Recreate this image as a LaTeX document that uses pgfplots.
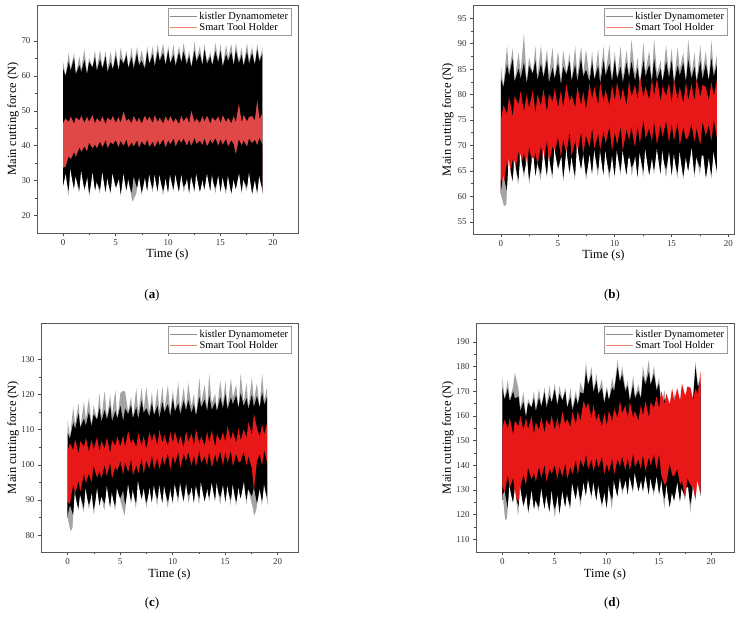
\documentclass[border=0pt]{standalone}
\usepackage{fontspec}
\setmainfont{Liberation Serif}
\usepackage{pgfplots}
\pgfplotsset{compat=1.18}
\usepackage{pgfplotstable}
\definecolor{redA}{HTML}{E04848}
\definecolor{redB}{HTML}{E81818}
\definecolor{fringe}{HTML}{A4A4A4}
\definecolor{legred}{HTML}{F08272}
\definecolor{leggray}{HTML}{8C8C8C}

% columns: t, grey fringe top, black top, red top, red bottom, black bottom, grey fringe bottom
\pgfplotstableread{
t gu ku su sl kl gl
0 63.8 62.0 46.5 33.7 28.6 27.1
0.22 60.2 59.9 47.8 33.9 31.0 30.4
0.53 66.7 64.0 46.8 36.9 26.9 22.5
0.71 62.0 61.4 48.4 36.0 31.3 31.3
1.04 66.6 65.1 46.3 38.1 27.4 25.6
1.20 60.5 60.5 48.1 36.7 30.6 29.7
1.55 65.5 63.1 47.3 39.4 27.0 24.6
1.73 62.0 61.1 48.6 38.2 31.2 30.9
2.02 67.6 64.6 46.6 39.7 27.5 25.4
2.27 60.7 60.4 48.3 38.3 29.9 29.3
2.47 65.2 64.0 46.9 40.8 26.1 23.1
2.80 62.4 62.4 48.7 39.2 30.5 30.5
3.03 67.5 65.4 46.4 40.3 26.7 25.2
3.21 62.0 61.4 47.9 39.2 29.3 28.4
3.52 67.5 64.8 46.8 41.1 27.3 24.6
3.74 62.3 62.0 48.4 39.5 30.9 30.6
4.05 67.1 65.6 46.2 41.5 26.3 24.5
4.22 61.9 61.0 48.0 39.2 29.7 29.1
4.54 67.0 64.0 47.2 41.0 26.5 24.1
4.73 61.8 61.8 48.5 40.3 30.5 30.5
5.02 67.6 65.8 46.6 41.5 27.9 26.7
5.28 62.0 61.4 48.2 39.5 30.1 29.2
5.47 68.0 65.0 46.5 41.3 25.9 22.9
5.76 63.7 63.4 49.8 39.9 30.5 30.2
6.04 67.2 66.0 47.0 41.7 27.1 25.0
6.21 62.2 62.2 47.7 39.4 29.5 28.9
6.53 68.1 65.4 46.5 40.9 26.3 23.6
6.72 62.9 62.0 48.5 39.7 31.1 24.0
7.05 68.4 66.6 46.7 41.5 27.7 26.2
7.23 63.3 63.0 48.1 39.3 30.3 29.4
7.48 67.4 64.4 46.3 41.2 26.5 24.1
7.79 62.6 62.0 48.6 40.0 29.7 29.4
8.02 68.5 67.0 47.1 41.6 26.7 24.9
8.22 63.4 63.4 48.3 39.6 30.7 30.1
8.55 68.6 66.2 46.5 41.1 27.5 24.5
8.73 63.5 62.6 48.7 39.5 29.9 29.9
9.03 69.3 67.2 46.8 41.4 26.1 24.9
9.20 64.5 64.2 48.0 40.1 30.5 29.9
9.54 69.3 66.6 46.4 41.8 26.9 24.2
9.77 63.6 63.0 48.4 39.4 29.3 29.0
10.02 68.6 67.4 46.9 41.5 26.3 24.2
10.21 63.6 63.6 48.5 40.3 30.9 30.0
10.53 69.0 66.0 46.6 42.0 27.3 24.9
10.72 63.4 62.8 47.9 39.7 30.1 30.1
11.05 68.6 66.8 46.2 41.8 26.5 25.0
11.27 64.1 63.8 48.6 40.7 30.5 29.9
11.48 69.4 67.0 47.0 42.0 28.1 25.1
11.79 64.1 63.2 48.2 40.0 29.5 29.2
12.02 67.3 65.8 46.5 41.6 25.9 24.1
12.22 62.4 62.4 50.0 39.9 30.5 29.6
12.54 69.9 67.2 46.7 42.2 27.1 24.4
12.71 64.6 64.0 47.8 40.4 30.3 30.3
13.04 68.5 66.4 46.5 41.4 26.5 25.3
13.28 63.3 63.0 48.5 40.1 29.1 28.8
13.47 69.0 67.6 46.9 42.0 27.5 25.1
13.72 64.3 63.4 48.6 39.8 31.1 30.5
14.05 66.8 65.6 46.3 41.7 26.7 24.9
14.21 63.0 63.0 48.1 40.5 29.9 29.9
14.53 69.4 67.0 47.1 42.1 27.7 24.7
14.78 64.4 63.8 48.4 40.0 30.7 29.8
15.02 69.0 67.2 46.5 41.8 26.1 24.6
15.22 62.9 62.6 48.7 40.2 29.7 29.4
15.54 68.9 66.2 46.8 41.9 26.9 24.2
15.73 65.1 64.2 48.0 39.7 30.3 29.7
16.04 69.2 66.8 46.4 41.5 26.3 24.2
16.27 63.0 63.0 48.5 40.3 28.9 28.9
16.47 69.5 67.4 46.7 37.5 27.3 26.1
16.76 64.2 63.6 52.0 41.8 30.9 30.6
17.03 68.1 66.0 46.6 40.0 26.7 23.7
17.21 63.1 62.8 48.8 41.4 29.9 29.0
17.54 69.4 67.0 47.0 39.7 27.9 25.5
17.73 64.3 63.4 48.2 42.0 30.5 30.5
18.02 68.4 66.6 48.5 40.7 25.9 24.4
18.28 63.2 63.2 47.2 41.7 29.3 28.7
18.51 69.3 67.6 53.0 40.1 26.5 23.8
18.72 64.6 64.0 47.6 42.2 30.1 29.8
19 67.9 66.4 49.3 40.4 27.5 25.7
}\tA

\pgfplotstableread{
t gu ku su sl kl gl
0 85.4 83.0 75.0 63.4 61.1 59.6
0.22 81.8 81.4 77.9 61.8 64.0 57.8
0.53 89.6 86.0 76.2 66.8 60.9 58.2
0.71 84.5 83.7 79.6 63.9 65.8 65.8
1.04 89.1 87.1 75.6 67.2 62.9 61.1
1.20 82.5 82.5 79.7 64.1 66.6 65.7
1.55 88.3 85.1 78.1 68.7 63.0 60.6
1.73 84.3 83.1 80.7 65.7 67.2 66.9
2.02 92.0 86.3 76.7 68.4 64.5 62.4
2.27 82.5 82.1 80.1 65.2 66.9 66.3
2.47 87.3 85.7 77.3 69.6 63.1 60.1
2.80 84.1 84.1 80.9 66.0 67.5 67.5
3.03 89.5 86.7 76.3 68.6 63.7 62.2
3.21 83.5 82.7 80.0 66.0 66.3 65.4
3.52 89.7 86.1 77.8 69.8 64.3 61.6
3.74 83.7 83.3 81.0 66.6 67.9 67.6
4.05 88.9 86.9 76.6 70.8 63.8 62.0
4.22 83.5 82.3 80.2 66.2 67.2 66.6
4.54 89.3 85.3 78.6 69.8 64.0 61.6
4.73 83.1 83.1 81.2 68.4 68.0 68.0
5.02 88.7 86.3 77.4 71.5 65.4 64.2
5.28 82.7 81.9 80.9 67.5 67.6 66.7
5.47 88.7 85.5 77.5 71.1 63.4 60.4
5.76 84.3 83.9 82.1 68.3 68.0 67.7
6.04 88.1 86.5 78.5 72.4 64.6 62.5
6.21 82.7 82.7 79.9 67.8 67.0 66.4
6.53 89.5 85.9 77.5 70.8 63.8 61.1
6.72 83.7 82.5 81.5 68.4 68.6 68.6
7.05 89.5 87.1 77.9 72.5 65.2 63.7
7.23 83.9 83.5 80.7 68.1 67.8 66.9
7.48 88.9 84.9 77.1 71.9 64.0 61.6
7.79 83.3 82.5 82.2 69.5 67.2 66.9
8.02 88.5 86.5 79.2 73.2 64.2 62.4
8.22 82.9 82.9 81.6 69.2 68.2 67.6
8.55 88.9 85.7 78.0 72.2 65.0 62.0
8.73 83.3 82.1 82.4 69.0 67.4 67.4
9.03 89.5 86.7 78.6 72.8 63.6 62.4
9.20 84.1 83.7 81.0 70.2 68.0 67.4
9.54 89.7 86.1 77.8 73.6 64.4 61.7
9.77 83.3 82.5 81.8 68.8 66.8 66.5
10.02 88.5 86.9 78.8 72.5 63.8 61.7
10.21 83.1 83.1 82.5 70.1 68.4 67.5
10.53 89.5 85.5 78.7 73.5 64.8 62.4
10.72 83.1 82.3 81.3 68.9 67.6 67.6
11.05 88.7 86.3 77.9 73.1 64.0 62.5
11.27 83.7 83.3 82.7 70.9 68.0 67.4
11.48 90.8 86.5 79.5 73.5 65.6 62.6
11.79 83.9 82.7 81.9 69.5 67.0 66.7
12.02 87.3 85.3 79.0 73.7 63.4 61.6
12.22 81.9 81.9 83.6 70.3 68.0 67.1
12.54 90.3 86.7 79.4 74.9 64.6 61.9
12.71 84.3 83.5 81.6 71.3 67.8 67.8
13.04 88.7 85.9 79.0 73.3 64.0 62.8
13.28 82.9 82.5 83.0 70.7 66.6 66.3
13.47 91.1 87.1 79.8 74.5 65.0 62.6
13.72 84.1 82.9 83.2 70.1 68.6 68.0
14.05 86.7 85.1 78.6 73.9 64.2 62.4
14.21 82.5 82.5 81.7 71.5 67.4 67.4
14.53 89.7 86.5 79.7 74.7 65.2 62.2
14.78 84.1 83.3 82.3 70.5 68.2 67.3
15.02 89.1 86.7 78.5 74.1 63.6 62.1
15.22 82.5 82.1 82.9 70.9 67.2 66.9
15.54 89.3 85.7 79.1 74.3 64.4 61.7
15.73 84.9 83.7 81.5 69.9 67.8 67.2
16.04 88.3 86.3 78.3 73.5 63.8 61.7
16.27 82.5 82.5 82.5 71.1 66.4 66.4
16.47 90.9 86.9 78.9 71.5 64.8 63.6
16.76 83.9 83.1 82.1 74.1 68.4 68.1
17.03 88.3 85.5 78.7 70.5 64.2 61.2
17.21 82.7 82.3 83.1 73.3 67.4 66.5
17.54 89.7 86.5 79.5 69.9 65.4 63.0
17.73 84.1 82.9 81.9 74.5 68.0 68.0
18.02 88.5 86.1 81.5 71.9 63.4 61.9
18.28 82.7 82.7 78.9 73.9 66.8 66.2
18.51 90.7 87.1 82.5 70.7 64.0 61.3
18.72 84.3 83.5 79.7 74.9 67.6 67.3
19 87.9 85.9 83.1 71.3 65.0 63.2
}\tB

\pgfplotstableread{
t gu ku su sl kl gl
0 112.6 109.0 104.0 89.4 85.6 83.6
0.22 108.0 107.4 106.1 88.8 88.5 80.5
0.53 116.4 112.0 104.1 94.3 85.4 81.8
0.71 111.4 110.2 107.3 91.7 90.3 90.3
1.04 117.6 114.6 103.1 95.2 87.4 85.0
1.20 110.5 110.5 106.7 92.1 91.1 89.9
1.55 117.9 113.1 105.1 97.2 87.5 84.3
1.73 112.9 111.1 107.7 94.7 91.7 91.3
2.02 119.0 115.0 103.7 97.4 88.5 85.7
2.27 111.4 110.8 107.1 94.7 90.9 90.1
2.47 116.8 114.4 104.3 99.6 87.1 83.1
2.80 112.8 112.8 107.9 96.2 91.5 91.5
3.03 120.4 116.2 103.8 98.1 88.2 86.2
3.21 113.4 112.2 106.8 96.0 90.8 89.6
3.52 121.0 115.6 104.6 99.8 88.8 85.2
3.74 113.4 112.8 107.8 96.6 92.4 92.0
4.05 119.9 116.9 103.4 100.5 87.8 85.4
4.22 114.1 112.3 107.0 95.9 91.2 90.4
4.54 121.3 115.3 105.4 99.5 88.0 84.8
4.73 113.1 113.1 108.0 98.1 92.0 92.0
5.02 120.4 116.8 105.2 101.0 90.4 88.8
5.28 121.0 112.4 108.4 97.0 92.6 86.0
5.47 120.8 116.0 105.0 100.6 88.4 84.4
5.76 115.0 114.4 109.6 97.8 93.0 92.6
6.04 119.4 117.0 106.0 101.4 89.6 86.8
6.21 113.2 113.2 107.4 96.8 92.0 91.2
6.53 121.8 116.4 105.0 99.8 88.8 85.2
6.72 114.8 113.0 109.0 97.4 93.6 93.6
7.05 121.9 118.3 105.4 101.7 90.2 88.2
7.23 115.3 114.7 108.2 97.3 92.8 91.6
7.48 122.1 116.1 104.6 101.1 89.0 85.8
7.79 114.9 113.7 109.2 98.7 92.2 91.8
8.02 120.7 117.7 106.7 102.7 89.2 86.8
8.22 114.1 114.1 109.1 98.7 93.2 92.4
8.55 121.7 116.9 105.5 101.7 90.0 86.0
8.73 115.1 113.3 109.9 98.5 92.4 92.4
9.03 122.1 117.9 106.1 102.3 88.6 87.0
9.20 115.5 114.9 108.5 99.7 93.0 92.2
9.54 122.7 117.3 105.3 103.1 89.4 85.8
9.77 114.9 113.7 109.3 98.3 91.8 91.4
10.02 121.3 118.9 106.3 102.5 89.3 86.5
10.21 115.1 115.1 109.5 100.1 93.9 92.7
10.53 123.5 117.5 105.7 103.5 90.3 87.1
10.72 115.5 114.3 108.3 98.9 93.1 93.1
11.05 121.9 118.3 104.9 103.1 89.5 87.5
11.27 115.9 115.3 109.7 100.9 93.5 92.7
11.48 123.3 118.5 106.5 103.5 91.1 87.1
11.79 116.5 114.7 108.9 99.5 92.5 92.1
12.02 120.3 117.3 105.5 102.7 88.9 86.5
12.22 113.9 113.9 110.1 99.3 93.5 92.3
12.54 124.8 119.4 105.9 103.9 90.1 86.5
12.71 117.4 116.2 108.1 100.3 93.3 93.3
13.04 122.8 118.6 105.5 102.3 89.5 87.9
13.28 115.8 115.2 109.5 99.7 92.1 91.7
13.47 125.8 119.8 106.3 103.5 90.5 87.3
13.72 117.4 115.6 109.7 99.1 94.1 93.3
14.05 120.2 117.8 105.1 102.9 89.7 87.3
14.21 115.2 115.2 108.7 100.5 92.9 92.9
14.53 124.0 119.2 106.7 103.7 90.7 86.7
14.78 117.2 116.0 109.3 99.5 93.7 92.5
15.02 123.8 120.2 106.5 103.6 89.1 87.1
15.22 116.2 115.6 110.9 100.4 92.7 92.3
15.54 124.6 119.2 107.1 103.8 89.9 86.3
15.73 119.0 117.2 109.5 99.4 93.3 92.5
16.04 122.8 119.8 106.3 103.0 89.3 86.5
16.27 116.0 116.0 110.5 100.6 91.9 91.9
16.47 126.0 120.4 106.9 101.0 90.3 88.7
16.76 117.8 116.6 110.1 103.6 93.9 93.5
17.03 123.2 119.0 107.7 99.5 89.7 85.7
17.21 116.4 115.8 112.1 102.3 92.9 91.7
17.54 124.8 120.0 108.5 98.9 90.9 87.7
17.73 118.2 116.4 114.5 92.5 93.5 84.5
18.02 123.2 119.6 110.5 100.9 88.9 86.9
18.28 116.2 116.2 107.9 102.9 92.3 91.5
18.51 126.0 120.6 111.5 99.7 89.5 85.9
18.72 118.2 117.0 108.7 103.9 93.1 92.7
19 122.4 119.4 112.1 100.3 90.5 88.1
}\tC

\pgfplotstableread{
t gu ku su sl kl gl
0 176.0 171.5 155.0 131.6 127.9 125.9
0.22 167.0 166.6 158.4 128.7 129.5 116.5
0.53 174.6 171.0 154.9 135.7 122.1 118.5
0.71 166.6 165.8 159.2 130.6 129.2 129.2
1.04 171.9 169.9 152.4 134.8 124.6 122.2
1.20 177.5 167.0 158.0 127.9 128.9 127.7
1.55 171.1 167.9 155.9 125.0 123.0 115.5
1.73 163.1 161.9 160.1 130.8 128.8 128.4
2.02 169.7 165.7 154.3 136.1 123.5 120.7
2.27 159.8 159.4 159.2 131.8 126.9 126.1
2.47 166.9 165.3 154.7 138.9 120.9 116.9
2.80 163.4 163.4 159.8 134.0 127.2 127.2
3.03 170.1 167.3 152.7 136.9 121.3 119.3
3.21 162.6 161.8 157.4 133.2 125.4 124.2
3.52 171.0 167.4 154.4 139.2 122.7 119.1
3.74 164.1 163.7 159.5 134.7 128.4 128.0
4.05 171.6 169.6 153.1 140.0 121.7 119.3
4.22 164.4 163.2 158.5 133.1 126.3 125.5
4.54 172.2 168.2 156.1 138.5 121.0 117.8
4.73 165.4 165.4 160.0 136.4 126.5 126.5
5.02 173.1 170.7 154.3 140.0 122.1 115.5
5.28 164.9 164.1 159.3 134.0 125.9 124.7
5.47 172.2 169.0 154.5 139.4 120.1 116.1
5.76 166.5 166.1 161.7 135.2 127.5 127.1
6.04 171.6 170.0 156.5 140.6 122.9 120.1
6.21 163.3 163.3 158.8 134.2 127.0 126.2
6.53 171.2 167.6 155.5 139.2 122.7 119.1
6.72 163.2 162.0 161.8 136.1 130.4 130.4
7.05 170.3 167.9 156.6 142.0 125.8 123.8
7.23 164.9 164.5 162.0 135.9 130.5 129.3
7.48 173.6 169.6 157.9 142.1 125.5 120.0
7.79 169.8 169.0 166.1 139.0 131.0 130.6
8.02 182.0 178.0 162.8 144.3 127.3 124.9
8.22 172.6 172.6 165.4 138.1 132.8 132.0
8.55 180.0 176.8 159.0 142.3 127.5 123.5
8.73 170.6 169.4 164.6 137.2 130.6 130.6
9.03 177.1 174.3 157.9 142.7 124.4 122.8
9.20 169.2 168.8 161.0 138.6 130.2 129.4
9.54 175.0 171.4 155.7 143.4 124.1 120.5
9.77 165.8 165.0 161.2 135.9 127.0 126.6
10.02 172.2 170.6 156.2 140.5 121.7 118.9
10.21 166.4 166.4 162.2 137.1 129.8 128.6
10.53 175.5 171.5 157.8 142.5 125.7 118.0
10.72 171.0 170.2 163.0 135.9 131.2 131.2
11.05 182.8 179.7 159.1 142.4 127.0 125.0
11.27 174.1 173.7 166.1 139.3 133.2 132.4
11.48 180.2 177.0 161.0 143.5 129.9 125.9
11.79 171.0 169.8 164.3 137.8 132.3 131.9
12.02 174.2 172.2 159.0 142.8 127.1 124.7
12.22 166.1 166.1 165.7 137.7 134.2 133.0
12.54 176.4 172.8 159.1 144.6 129.4 125.8
12.71 167.8 167.0 162.1 139.2 134.5 134.5
13.04 172.9 170.1 158.0 142.2 129.0 127.4
13.28 167.4 167.0 164.5 138.3 132.4 132.0
13.47 180.4 176.4 160.2 144.0 129.5 126.3
13.72 173.8 172.6 165.8 137.4 134.4 133.6
14.05 183.0 177.9 159.4 143.1 127.3 124.9
14.21 172.5 172.5 165.6 139.5 132.3 132.3
14.53 180.2 177.0 163.3 144.3 129.3 125.3
14.78 171.0 170.2 167.9 138.0 134.1 132.9
15.02 175.7 173.3 163.0 144.4 127.4 125.4
15.22 164.3 163.9 170.1 136.1 131.6 131.2
15.54 170.4 166.8 164.9 132.0 126.1 118.0
15.73 162.5 161.3 169.0 133.1 129.9 129.1
16.04 164.7 162.7 164.7 140.5 122.7 119.9
16.27 158.0 158.0 171.2 135.9 127.1 127.1
16.47 169.6 165.6 166.1 135.5 125.2 123.6
16.76 160.7 159.9 171.2 138.4 131.1 130.7
17.03 166.3 163.5 166.3 132.0 125.3 121.3
17.21 159.6 159.2 173.1 133.7 130.1 128.9
17.54 169.2 166.0 168.0 126.1 127.1 123.9
17.73 162.3 161.1 171.9 134.5 131.0 131.0
18.02 168.8 166.4 171.5 132.1 124.1 116.0
18.28 167.3 167.3 166.6 130.6 129.7 128.9
18.51 182.0 179.9 171.0 114.5 126.0 122.4
18.72 172.8 172.0 168.8 130.6 131.9 131.5
19 175.1 173.1 178.0 128.2 128.5 126.1
}\tD

\pgfplotsset{
  legend image code/.code={\draw[#1] (0bp,0bp) -- (27bp,0bp);},
}
\pgfplotsset{
  panel/.style={
    scale only axis,
    axis on top,
    tick align=outside,
    xtick pos=left, ytick pos=left,
    minor x tick num=1, minor y tick num=1,
    major tick length=3bp, minor tick length=1.8bp,
    axis line style={black!65, line width=0.6pt},
    tick style={black!70, line width=0.5pt},
    /pgf/number format/assume math mode=true,
    tick label style={font=\fontsize{9}{10}\selectfont, text=black!80},
    xtick={0,5,10,15,20},
    xlabel={Time (s)}, ylabel={Main cutting force (N)},
    label style={font=\fontsize{12.5}{13}\selectfont},
    xlabel style={at={(axis description cs:0.5,0)}, anchor=center, yshift=-22bp},
    legend style={at={(0.975,0.985)}, anchor=north east, draw=black!40,
      font=\fontsize{10.5}{11}\selectfont, inner sep=1.2pt, row sep=-1.5pt,
      fill=white},
    legend cell align=left,
    legend entries={kistler Dynamometer, Smart Tool Holder},
  },
}

% layered fills from each edge down to the bottom of the axis
\newcommand{\bands}[2]{%
  \addlegendimage{draw=leggray, line width=0.8pt}
  \addlegendimage{draw=legred, line width=0.8pt}
  \addplot[fill=fringe, draw=none, forget plot] table[x=t, y=gu] {#1} \closedcycle;
  \addplot[fill=black, draw=none, forget plot] table[x=t, y=ku] {#1} \closedcycle;
  \addplot[fill=#2, draw=none, forget plot] table[x=t, y=su] {#1} \closedcycle;
  \addplot[fill=black, draw=none, forget plot] table[x=t, y=sl] {#1} \closedcycle;
  \addplot[fill=fringe, draw=none, forget plot] table[x=t, y=kl] {#1} \closedcycle;
  \addplot[fill=white, draw=white, line width=1.6pt, forget plot] table[x=t, y=gl] {#1} \closedcycle;
}

\begin{document}
\begin{tikzpicture}
\useasboundingbox (0,0) rectangle (741bp,-627bp);

\begin{axis}[panel, at={(37bp,-233bp)}, anchor=south west,
  width=261bp, height=228bp,
  xmin=-2.5, xmax=22.4, ymin=15, ymax=80.3,
  ytick={20,30,40,50,60,70},
  ylabel style={at={(axis description cs:-0.092,0.5)}, anchor=center}]
\bands{\tA}{redA}
\end{axis}

\begin{axis}[panel, at={(473bp,-234bp)}, anchor=south west,
  width=261bp, height=229bp,
  xmin=-2.46, xmax=20.5, ymin=52.6, ymax=97.6,
  ytick={55,60,65,70,75,80,85,90,95},
  ylabel style={at={(axis description cs:-0.096,0.5)}, anchor=center}]
\bands{\tB}{redB}
\end{axis}

\begin{axis}[panel, at={(41bp,-552bp)}, anchor=south west,
  width=257bp, height=229bp,
  xmin=-2.54, xmax=21.93, ymin=75.2, ymax=140.3,
  ytick={80,90,100,110,120,130},
  ylabel style={at={(axis description cs:-0.109,0.5)}, anchor=center}]
\bands{\tC}{redB}
\end{axis}

\begin{axis}[panel, at={(476bp,-552bp)}, anchor=south west,
  width=258bp, height=229bp,
  xmin=-2.52, xmax=22.2, ymin=104.9, ymax=197.6,
  ytick={110,120,130,140,150,160,170,180,190},
  ylabel style={at={(axis description cs:-0.109,0.5)}, anchor=center}]
\bands{\tD}{redB}
\end{axis}

\node[font=\fontsize{13}{14}\selectfont] at (152bp,-295bp) {(\textbf{a})};
\node[font=\fontsize{13}{14}\selectfont] at (612bp,-295bp) {(\textbf{b})};
\node[font=\fontsize{13}{14}\selectfont] at (152bp,-603bp) {(\textbf{c})};
\node[font=\fontsize{13}{14}\selectfont] at (612bp,-603bp) {(\textbf{d})};
\end{tikzpicture}
\end{document}
